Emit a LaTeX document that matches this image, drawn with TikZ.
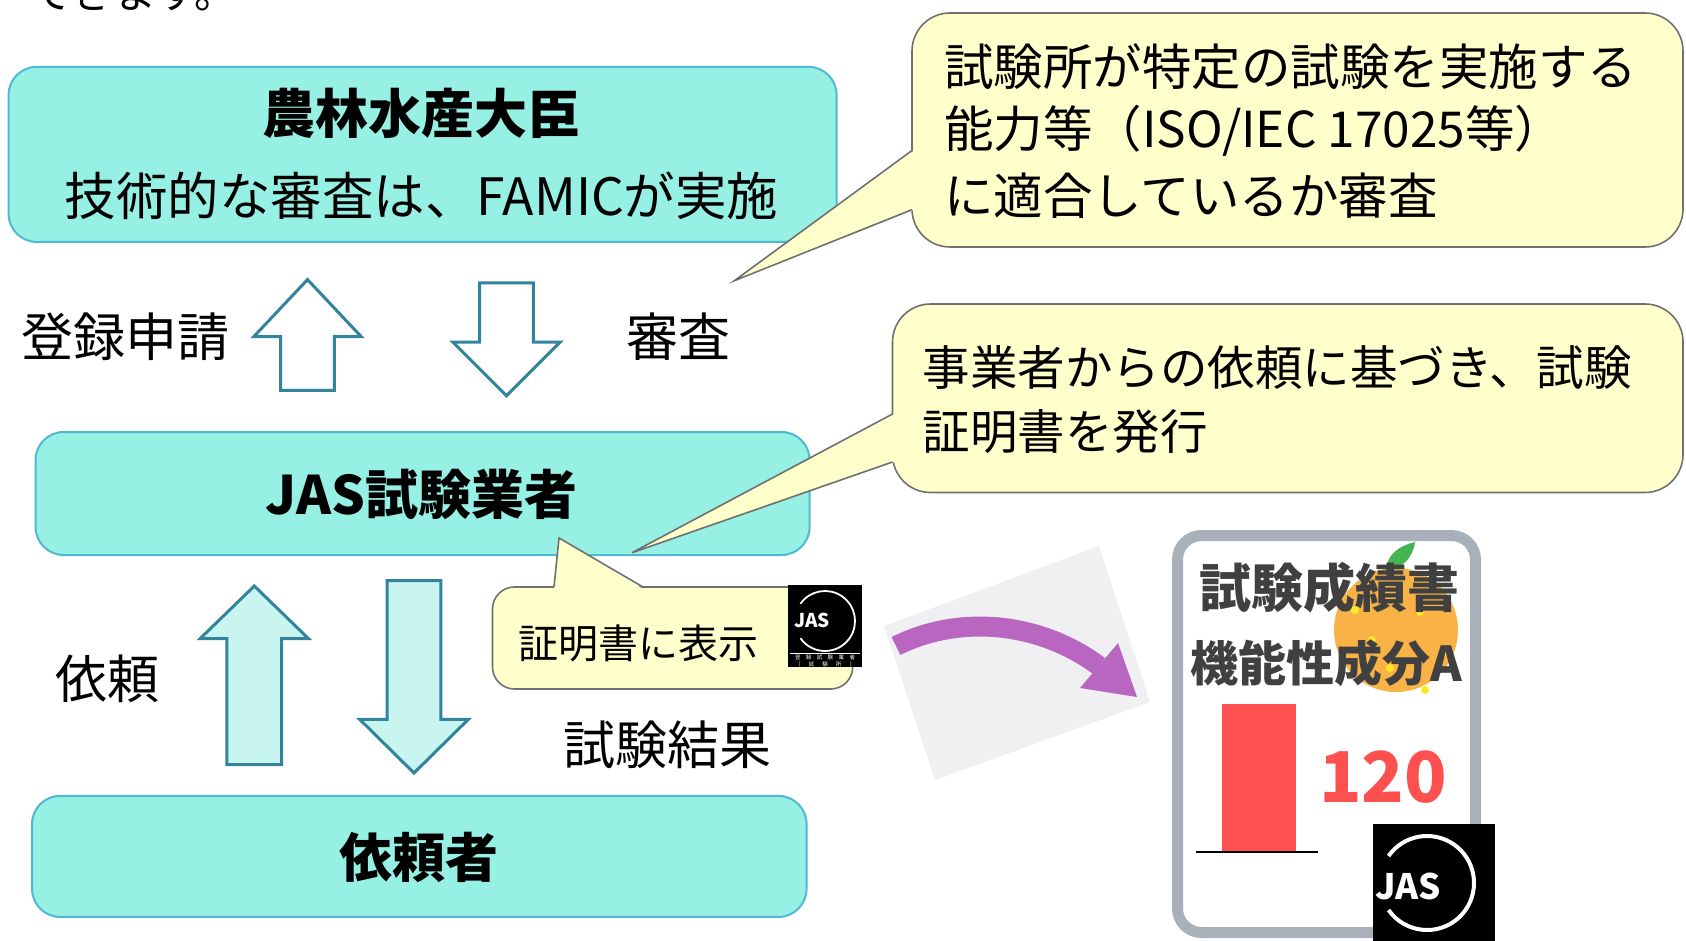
\documentclass[tikz,border=0pt]{standalone}
\usepackage{fontspec}
\setmainfont{Noto Sans CJK JP}
\definecolor{boxfill}{RGB}{150,240,228}
\definecolor{boxline}{RGB}{80,185,210}
\definecolor{notefill}{RGB}{255,255,204}
\definecolor{noteline}{RGB}{112,112,112}
\definecolor{arrline}{RGB}{49,132,155}
\definecolor{arrfill}{RGB}{200,245,240}
\definecolor{barred}{RGB}{255,80,80}
\definecolor{certgray}{RGB}{168,176,186}
\definecolor{inkgray}{RGB}{64,64,64}
\definecolor{mikan}{RGB}{248,178,70}
\definecolor{dotyellow}{RGB}{255,232,40}
\definecolor{leaf}{RGB}{70,180,80}
\definecolor{purplearrow}{RGB}{184,102,192}
\definecolor{paper}{RGB}{240,240,242}
\newcommand\fs[1]{\fontsize{#1}{#1}\selectfont}
% style, x, tail y, neck y, tip y, half head, half shaft
\newcommand\blockarrow[7]{
  \draw[#1] (#2-#7,#3) -- (#2-#7,#4) -- (#2-#6,#4) -- (#2,#5)
    -- (#2+#6,#4) -- (#2+#7,#4) -- (#2+#7,#3) -- cycle;
}
\tikzset{
  party/.style={draw=boxline,line width=2pt,fill=boxfill,rounded corners=28pt},
  note/.style={draw=noteline,line width=1.6pt,fill=notefill},
  hollowarrow/.style={draw=arrline,line width=3pt,fill=white,line join=miter},
  fullarrow/.style={draw=arrline,line width=3pt,fill=arrfill,line join=miter},
  txt/.style={inner sep=0pt,font=\fs{52}},
  ttl/.style={inner sep=0pt,font=\fs{53}\bfseries},
  notetxt/.style={inner sep=0pt,anchor=west,font=\fs{49.5}},
}

\begin{document}
\begin{tikzpicture}[x=1pt,y=-1pt]
  \useasboundingbox (0,0) rectangle (1686,941);
  \node[anchor=base west,inner sep=0pt,font=\fs{42}] (lead) at (30,9) {できます。};

  \node[party,minimum width=828pt,minimum height=175pt] (minister) at (422.6,154.4) {};
  \node[ttl] (ministername) at (421.5,113) {農林水産大臣};
  \node[txt,font=\fs{51.5}] (famic) at (421.5,196) {技術的な審査は、FAMICが実施};
  \node[party,minimum width=774pt,minimum height=123pt] (tester) at (422.6,493.5) {};
  \node[ttl] (testername) at (421.5,494) {JAS試験業者};
  \node[party,minimum width=774.5pt,minimum height=121pt] (client) at (419.3,856.4) {};
  \node[ttl] (clientname) at (419,857) {依頼者};

  \blockarrow{hollowarrow}{307.5}{390.3}{336.6}{279.6}{53.7}{26.9}
  \blockarrow{hollowarrow}{506.5}{282.8}{342}{395.7}{53.7}{26.9}
  \blockarrow{fullarrow}{254.3}{764.5}{638.7}{586}{54.3}{27.4}
  \blockarrow{fullarrow}{414}{580.7}{719.4}{773}{54.3}{26.9}

  \node[txt] (apply) at (125.8,336.6) {登録申請};
  \node[txt] (review) at (678.5,336.6) {審査};
  \node[txt] (request) at (107.5,678.5) {依頼};
  \node[txt] (result) at (667.8,745) {試験結果};

  % callouts
  \draw[note,rounded corners=38pt] (912,13) rectangle (1683,247);
  \fill[notefill] (914,150.5) -- (734.4,280.7) -- (914,209.7) -- cycle;
  \draw[noteline,line width=1.6pt] (912,150.5) -- (734.4,280.7) -- (912,209.7);
  \node[notetxt] (assess1) at (944,67) {試験所が特定の試験を実施する};
  \node[notetxt] (assess2) at (944,131) {能力等（ISO/IEC 17025等）};
  \node[notetxt] (assess3) at (944,196) {に適合しているか審査};

  \draw[note,rounded corners=38pt] (892.5,304) rectangle (1683,492.5);
  \fill[notefill] (894.5,414) -- (632,552.7) -- (894.5,462) -- cycle;
  \draw[noteline,line width=1.6pt] (892.5,414) -- (632,552.7) -- (892.5,462);
  \node[notetxt,font=\fs{47.5}] (issue1) at (922.6,367.7) {事業者からの依頼に基づき、試験};
  \node[notetxt,font=\fs{47.5}] (issue2) at (922.6,432) {証明書を発行};

  \draw[note,rounded corners=22pt] (492.5,587) rectangle (852.7,689);
  \fill[notefill] (554,589) -- (559,538) -- (643,589) -- cycle;
  \draw[noteline,line width=1.6pt] (554,587) -- (559,538) -- (643,587);
  \node[notetxt,font=\fs{40}] (mark) at (518,643) {証明書に表示};

  % small mark
  \fill[black] (788,585) rectangle (862,667);
  \draw[white,line width=1.8pt] (825,621) ++(-145:30) arc[start angle=-145,end angle=145,radius=30];
  \node[txt,text=white,font=\fs{19}\bfseries] (jassmall) at (812,620.5) {JAS};
  \draw[white,line width=0.6pt] (790,653) -- (860,653);
  \node[txt,text=white,font=\fs{5.5}] (smallreg) at (825,657.5)
    {\makebox[60pt][s]{登\hfill{}録\hfill{}試\hfill{}験\hfill{}業\hfill{}者}};
  \node[txt,text=white,font=\fs{5.5}] (smalllab) at (825,664.5)
    {\makebox[60pt][s]{（\hfill{}試\hfill{}験\hfill{}所\hfill{}）}};

  % curved arrow on paper
  \fill[paper] (884,626) -- (1099,546) -- (1150,702) -- (935,780) -- cycle;
  \draw[purplearrow,line width=20pt] (896,646) .. controls (960,614) and (1040,622) .. (1099,666);
  \fill[purplearrow] (1118,643) -- (1137,697) -- (1080,688) -- cycle;

  % certificate
  \draw[certgray,line width=11pt,fill=white,rounded corners=24pt] (1177.5,535.5) rectangle (1475.5,932.5);
  \fill[mikan] (1396,630) circle[radius=62];
  \foreach \p in {(1372,640),(1420,612),(1443,652),(1390,668),(1425,690),(1355,610)}
    \fill[dotyellow] \p circle[radius=4];
  \fill[leaf] (1385,572) .. controls (1388,552) and (1400,546) .. (1415,542)
    .. controls (1413,558) and (1402,569) .. (1385,572) -- cycle;
  \node[ttl,text=inkgray,font=\fs{52}\bfseries] (certtitle) at (1329,588) {試験成績書};
  \node[ttl,text=inkgray,font=\fs{48}\bfseries] (component) at (1326,663.5) {機能性成分A};
  \fill[barred] (1221.5,704) rectangle (1295.7,852);
  \draw[line width=2pt] (1196,852) -- (1318,852);
  \node[txt,text=barred,font=\fs{70}\bfseries] (value) at (1383,777) {120};

  % large mark
  \fill[black] (1373,824) rectangle (1495,950);
  \draw[white,line width=4pt] (1427,883) ++(-145:47) arc[start angle=-145,end angle=145,radius=47];
  \node[txt,text=white,font=\fs{35}\bfseries] (jasbig) at (1408,886) {JAS};
\end{tikzpicture}
\end{document}
